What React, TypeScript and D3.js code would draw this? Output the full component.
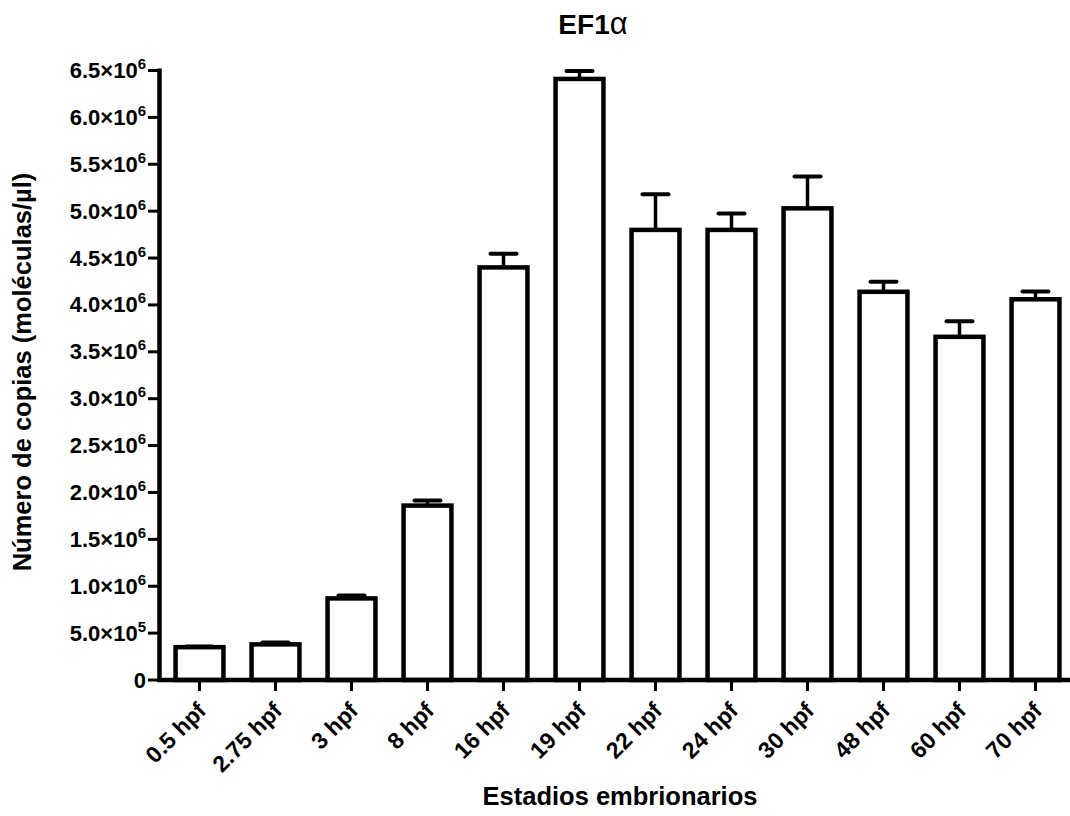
import React, { useEffect, useRef } from "react";
import * as d3 from "d3";

// values, in copies/µl
const stages = ["0.5 hpf", "2.75 hpf", "3 hpf", "8 hpf", "16 hpf", "19 hpf", "22 hpf", "24 hpf", "30 hpf", "48 hpf", "60 hpf", "70 hpf"];
const means = [0.35e6, 0.38e6, 0.87e6, 1.86e6, 4.4e6, 6.41e6, 4.8e6, 4.8e6, 5.03e6, 4.14e6, 3.66e6, 4.06e6];
const errors = [0.006e6, 0.02e6, 0.03e6, 0.055e6, 0.146e6, 0.085e6, 0.38e6, 0.175e6, 0.34e6, 0.107e6, 0.167e6, 0.083e6];
const yTicks = [0, 0.5e6, 1e6, 1.5e6, 2e6, 2.5e6, 3e6, 3.5e6, 4e6, 4.5e6, 5e6, 5.5e6, 6e6, 6.5e6];

const FONT = "'Liberation Sans', Arial, sans-serif";

const App = () => {
  const ref = useRef<SVGSVGElement>(null);

  useEffect(() => {
    document.body.style.margin = "0";
    const svg = d3.select(ref.current);
    svg.selectAll("*").remove();

    const x = d3.scaleBand<string>()
      .domain(stages)
      .range([161.5, 1073.5])
      .paddingInner(0.37)
      .paddingOuter(0.185);

    const y = d3.scaleLinear().domain([0, 6.5e6]).range([680, 70.5]);

    const g = svg.append("g");

    // bars
    g.selectAll("rect.bar")
      .data(means)
      .enter()
      .append("rect")
      .attr("class", "bar")
      .attr("x", (d, i) => x(stages[i])!)
      .attr("y", d => y(d))
      .attr("width", x.bandwidth())
      .attr("height", d => y(0) - y(d))
      .attr("fill", "#fff")
      .attr("stroke", "#000")
      .attr("stroke-width", 4.5);

    // error bars (upper only)
    const cx = (i: number) => x(stages[i])! + x.bandwidth() / 2;
    g.selectAll("line.err")
      .data(means)
      .enter()
      .append("line")
      .attr("x1", (d, i) => cx(i))
      .attr("x2", (d, i) => cx(i))
      .attr("y1", d => y(d))
      .attr("y2", (d, i) => y(d + errors[i]))
      .attr("stroke", "#000")
      .attr("stroke-width", 3.5);
    g.selectAll("line.cap")
      .data(means)
      .enter()
      .append("line")
      .attr("x1", (d, i) => cx(i) - 13)
      .attr("x2", (d, i) => cx(i) + 13)
      .attr("y1", (d, i) => y(d + errors[i]))
      .attr("y2", (d, i) => y(d + errors[i]))
      .attr("stroke", "#000")
      .attr("stroke-width", 4)
      .attr("stroke-linecap", "round");

    // y axis
    const yAxis = g.append("g");
    yAxis.append("line")
      .attr("x1", 159.5).attr("x2", 159.5)
      .attr("y1", y(0) + 2).attr("y2", y(6.5e6) - 2)
      .attr("stroke", "#000").attr("stroke-width", 4.5);
    yAxis.selectAll("line.tick")
      .data(yTicks)
      .enter()
      .append("line")
      .attr("x1", 148).attr("x2", 159)
      .attr("y1", d => y(d)).attr("y2", d => y(d))
      .attr("stroke", "#000").attr("stroke-width", 3);
    const labels = yAxis.selectAll("text.tick")
      .data(yTicks)
      .enter()
      .append("text")
      .attr("x", 146)
      .attr("y", d => y(d) + 7.5)
      .attr("text-anchor", "end")
      .attr("font-family", FONT)
      .attr("font-weight", "bold")
      .attr("font-size", 22);
    labels.each(function (d) {
      const t = d3.select(this);
      if (d === 0) {
        t.text("0");
        return;
      }
      const e = Math.floor(Math.log10(d));
      t.append("tspan").text(`${(d / Math.pow(10, e)).toFixed(1)}×10`);
      t.append("tspan").attr("dy", -9).attr("font-size", 15).text(`${e}`);
    });

    // x axis
    const xAxis = g.append("g");
    xAxis.append("line")
      .attr("x1", 157.5).attr("x2", 1070)
      .attr("y1", 680).attr("y2", 680)
      .attr("stroke", "#000").attr("stroke-width", 4.5);
    xAxis.selectAll("line.tick")
      .data(stages)
      .enter()
      .append("line")
      .attr("x1", (d, i) => cx(i)).attr("x2", (d, i) => cx(i))
      .attr("y1", 680).attr("y2", 691)
      .attr("stroke", "#000").attr("stroke-width", 3);
    xAxis.selectAll("text")
      .data(stages)
      .enter()
      .append("text")
      .attr("transform", (d, i) => `translate(${cx(i) + 8},${712}) rotate(-45)`)
      .attr("text-anchor", "end")
      .attr("font-family", FONT)
      .attr("font-weight", "bold")
      .attr("font-size", 23)
      .text(d => d);

    // titles
    const title = svg.append("text")
      .attr("x", 593).attr("y", 34)
      .attr("text-anchor", "middle")
      .attr("font-family", FONT)
      .attr("font-weight", "bold")
      .attr("font-size", 28);
    title.append("tspan").text("EF1");
    title.append("tspan").attr("font-weight", "normal").attr("font-size", 31).text("α");

    svg.append("text")
      .attr("x", 620).attr("y", 805)
      .attr("text-anchor", "middle")
      .attr("font-family", FONT)
      .attr("font-weight", "bold")
      .attr("font-size", 25.5)
      .text("Estadios embrionarios");

    svg.append("text")
      .attr("transform", "translate(31,372) rotate(-90)")
      .attr("text-anchor", "middle")
      .attr("font-family", FONT)
      .attr("font-weight", "bold")
      .attr("font-size", 25.5)
      .text("Número de copias (moléculas/µl)");
  }, []);

  return <svg ref={ref} width={1070} height={816} style={{ display: "block" }} />;
};

export default App;
